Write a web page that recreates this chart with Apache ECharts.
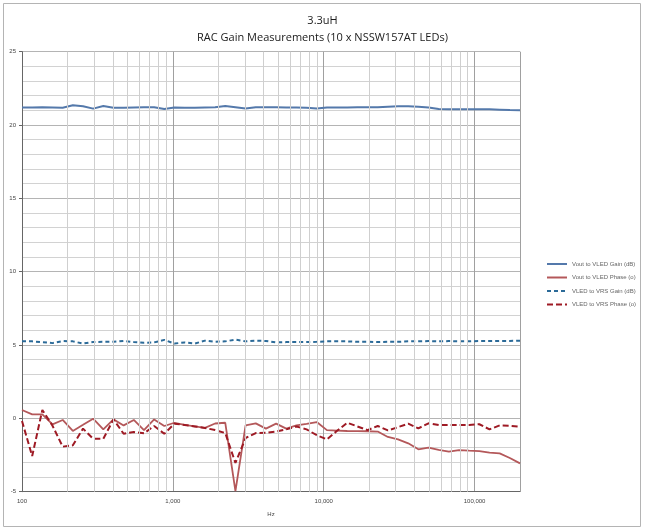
<!DOCTYPE html>
<html>
<head>
<meta charset="utf-8">
<script src="https://cdn.jsdelivr.net/npm/echarts@6/dist/echarts.min.js"></script>
<style>
  html, body { margin: 0; padding: 0; background: #ffffff; }
  #main { width: 645px; height: 530px; }
</style>
</head>
<body>
<div id="main"></div>
<script>
// sweep frequencies (Hz), 50 log-spaced points 100 Hz .. 200 kHz
var freqs = [
  100, 116.8, 136.4, 159.3, 186.1, 217.3, 253.8, 296.2, 345.9, 404.0,
  471.8, 551.0, 643.4, 751.4, 877.5, 1024.5, 1196.5, 1397.3, 1631.8, 1905.5,
  2225.3, 2598.7, 3034.8, 3544.2, 4139.1, 4833.7, 5645.0, 6592.0, 7698.4, 8990.4,
  10497, 12259, 14317, 16718, 19523, 22799, 26625, 31093, 36308, 42399,
  49514, 57823, 67525, 78856, 92089, 107546, 125593, 146670, 171282, 200000
];

var voutGain = [
  21.2, 21.2, 21.22, 21.2, 21.18, 21.35, 21.28, 21.12, 21.3, 21.18,
  21.18, 21.2, 21.22, 21.22, 21.1, 21.2, 21.18, 21.18, 21.2, 21.22,
  21.3, 21.22, 21.12, 21.22, 21.22, 21.22, 21.2, 21.2, 21.18, 21.12,
  21.2, 21.2, 21.2, 21.22, 21.22, 21.22, 21.25, 21.28, 21.28, 21.25,
  21.2, 21.1, 21.08, 21.08, 21.08, 21.08, 21.08, 21.05, 21.02, 21.0
];

var voutPhase = [
  0.57, 0.27, 0.27, -0.41, -0.11, -0.86, -0.44, -0.02, -0.75, -0.07,
  -0.48, -0.11, -0.8, -0.07, -0.52, -0.3, -0.45, -0.55, -0.65, -0.35,
  -0.3, -4.96, -0.48, -0.34, -0.7, -0.36, -0.7, -0.48, -0.38, -0.25,
  -0.8, -0.83, -0.86, -0.87, -0.88, -0.9, -1.27, -1.43, -1.7, -2.11,
  -2.0, -2.15, -2.27, -2.16, -2.2, -2.23, -2.34, -2.39, -2.7, -3.07
];

var vrsGain = [
  5.25, 5.25, 5.2, 5.13, 5.27, 5.25, 5.1, 5.2, 5.22, 5.22,
  5.28, 5.2, 5.15, 5.18, 5.35, 5.1, 5.18, 5.1, 5.3, 5.22,
  5.25, 5.37, 5.25, 5.3, 5.28, 5.18, 5.2, 5.2, 5.2, 5.22,
  5.25, 5.25, 5.25, 5.22, 5.22, 5.2, 5.22, 5.22, 5.25, 5.25,
  5.27, 5.25, 5.27, 5.25, 5.25, 5.27, 5.27, 5.28, 5.28, 5.3
];

var vrsPhase = [
  -0.18, -2.57, 0.57, -0.5, -1.93, -1.84, -0.7, -1.39, -1.39, -0.07,
  -1.05, -0.93, -1.02, -0.52, -1.05, -0.36, -0.45, -0.55, -0.65, -0.8,
  -1.0, -3.04, -1.34, -1.0, -0.98, -0.9, -0.75, -0.55, -0.75, -1.15,
  -1.43, -0.85, -0.3, -0.55, -0.8, -0.52, -0.82, -0.6, -0.36, -0.68,
  -0.34, -0.46, -0.45, -0.45, -0.45, -0.4, -0.75, -0.48, -0.5, -0.57
];

var seriesNames = [
  'Vout to VLED Gain (dB)',
  'Vout to VLED Phase (o)',
  'VLED to VRS Gain (dB)',
  'VLED to VRS Phase (o)'
];

// minor vertical gridlines of the log axis
var minorFreqs = [
  200, 300, 400, 500, 600, 700, 800, 900,
  2000, 3000, 4000, 5000, 6000, 7000, 8000, 9000,
  20000, 30000, 40000, 50000, 60000, 70000, 80000, 90000
];

function pairs(ys) {
  return freqs.map(function (f, i) { return [f, ys[i]]; });
}

var chartDom = document.getElementById('main');
var myChart = echarts.init(chartDom);
var option;

var smallFont = { fontFamily: 'Liberation Sans', fontSize: 6, color: '#444' };

option = {
  backgroundColor: '#ffffff',
  animation: false,
  graphic: [
    {
      type: 'rect',
      shape: { x: 3.5, y: 3.5, width: 637, height: 523 },
      style: { fill: 'none', stroke: '#b4b4b4', lineWidth: 1 }
    }
  ],
  title: [
    {
      text: '3.3uH',
      left: 'center',
      top: 10,
      textStyle: { fontFamily: 'Open Sans', fontSize: 11, fontWeight: 'normal', color: '#1a1a1a' }
    },
    {
      text: 'RAC Gain Measurements (10 x NSSW157AT LEDs)',
      left: 'center',
      top: 27,
      textStyle: { fontFamily: 'Open Sans', fontSize: 11, fontWeight: 'normal', color: '#1a1a1a' }
    }
  ],
  legend: {
    data: seriesNames,
    orient: 'vertical',
    left: 541,
    top: 256,
    itemWidth: 20,
    itemHeight: 6,
    itemGap: 7.5,
    itemStyle: { opacity: 0 },
    textStyle: { fontFamily: 'Liberation Sans', fontSize: 6, color: '#666' }
  },
  grid: {
    left: 22,
    right: 125,
    top: 51.7,
    bottom: 38.3,
    containLabel: false
  },
  xAxis: {
    type: 'log',
    logBase: 10,
    min: 100,
    max: 200000,
    name: 'Hz',
    nameLocation: 'middle',
    nameGap: 20,
    nameTextStyle: smallFont,
    axisLine: { onZero: false, lineStyle: { color: '#666', width: 1 } },
    axisTick: { show: false },
    axisLabel: Object.assign({
      margin: 7,
      showMaxLabel: false,
      formatter: function (v) {
        var e = Math.log10(v);
        if (Math.abs(e - Math.round(e)) > 1e-6) return '';
        return Math.round(v).toLocaleString('en-US');
      }
    }, smallFont),
    splitLine: { show: true, lineStyle: { color: '#a0a0a0', width: 1 } }
  },
  yAxis: {
    type: 'value',
    min: -5,
    max: 25,
    interval: 5,
    axisLine: { show: true, lineStyle: { color: '#666', width: 1 } },
    axisTick: { show: true, length: 3, lineStyle: { color: '#666' } },
    axisLabel: Object.assign({ margin: 6 }, smallFont),
    splitLine: { show: true, lineStyle: { color: '#b4b4b4', width: 1 } },
    minorTick: { show: false, splitNumber: 5 },
    minorSplitLine: { show: true, lineStyle: { color: '#d2d2d2', width: 1 } }
  },
  series: [
    {
      name: 'grid-minor',
      type: 'line',
      data: [],
      z: 1,
      silent: true,
      markLine: {
        silent: true,
        symbol: 'none',
        label: { show: false },
        lineStyle: { color: '#cfcfcf', width: 1, type: 'solid' },
        data: minorFreqs.map(function (f) { return { xAxis: f }; })
      }
    },
    {
      name: seriesNames[0],
      type: 'line',
      data: pairs(voutGain),
      symbol: 'none',
      z: 3,
      lineStyle: { color: '#5479ab', width: 2 },
      itemStyle: { color: '#5479ab' }
    },
    {
      name: seriesNames[1],
      type: 'line',
      data: pairs(voutPhase),
      symbol: 'none',
      z: 3,
      lineStyle: { color: '#b4585a', width: 1.8 },
      itemStyle: { color: '#b4585a' }
    },
    {
      name: seriesNames[2],
      type: 'line',
      data: pairs(vrsGain),
      symbol: 'none',
      z: 3,
      lineStyle: { color: '#2b6a98', width: 2, type: [4, 3] },
      itemStyle: { color: '#2b6a98' }
    },
    {
      name: seriesNames[3],
      type: 'line',
      data: pairs(vrsPhase),
      symbol: 'none',
      z: 4,
      lineStyle: { color: '#9e1a24', width: 2, type: [6, 3] },
      itemStyle: { color: '#9e1a24' }
    }
  ]
};

option && myChart.setOption(option);
</script>
</body>
</html>
